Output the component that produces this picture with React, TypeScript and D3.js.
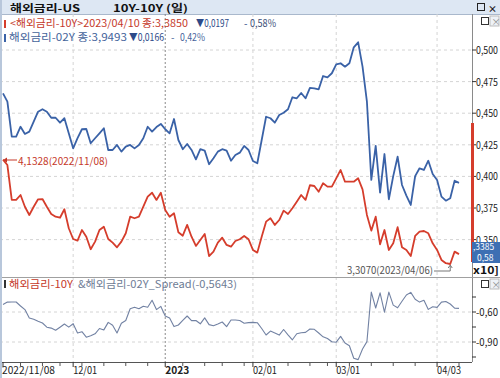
import React from "react";
import * as d3 from "d3";

// 10Y yield (%), 2022/11/08 .. 2023/04/10, trading days
const tenY = [
  4.133, 4.09, 3.814, 3.814, 3.853, 3.76, 3.695, 3.76, 3.819, 3.821,
  3.76, 3.703, 3.681, 3.673, 3.74, 3.59, 3.505, 3.492, 3.576, 3.523,
  3.424, 3.484, 3.576, 3.602, 3.505, 3.476, 3.439, 3.484, 3.55, 3.681,
  3.669, 3.681, 3.76, 3.84, 3.871, 3.814, 3.871, 3.734, 3.681, 3.708,
  3.558, 3.531, 3.616, 3.523, 3.45, 3.497, 3.545, 3.37, 3.405, 3.476,
  3.515, 3.458, 3.444, 3.489, 3.503, 3.529, 3.503, 3.418, 3.397, 3.523,
  3.642, 3.669, 3.616, 3.655, 3.729, 3.703, 3.748, 3.8, 3.853, 3.814,
  3.93, 3.924, 3.879, 3.946, 3.919, 3.919, 3.985, 4.051, 3.958, 3.958,
  3.958, 3.985, 3.898, 3.695, 3.571, 3.681, 3.463, 3.576, 3.418, 3.471,
  3.598, 3.439, 3.418, 3.37, 3.529, 3.563, 3.568, 3.55, 3.471, 3.418,
  3.339, 3.313, 3.307, 3.405, 3.385,
];
// 2Y yield (%)
const twoY = [
  4.657, 4.591, 4.314, 4.314, 4.393, 4.336, 4.354, 4.433, 4.512, 4.531,
  4.512, 4.464, 4.464, 4.425, 4.46, 4.341, 4.222, 4.302, 4.373, 4.375,
  4.262, 4.302, 4.341, 4.381, 4.209, 4.209, 4.249, 4.196, 4.235, 4.249,
  4.222, 4.249, 4.302, 4.393, 4.354, 4.39, 4.415, 4.373, 4.341, 4.454,
  4.288, 4.215, 4.256, 4.209, 4.135, 4.215, 4.204, 4.096, 4.143, 4.196,
  4.215, 4.204, 4.124, 4.169, 4.188, 4.241, 4.209, 4.122, 4.104, 4.288,
  4.472, 4.46, 4.425, 4.486, 4.504, 4.531, 4.626, 4.618, 4.66, 4.618,
  4.7, 4.697, 4.689, 4.794, 4.784, 4.816, 4.887, 4.895, 4.868, 4.895,
  5.021, 5.061, 4.868, 4.591, 3.972, 4.241, 3.871, 4.177, 3.819, 4.002,
  4.156, 3.932, 3.848, 3.774, 4.002, 4.064, 4.051, 4.124, 4.019, 3.972,
  3.84, 3.808, 3.827, 3.966, 3.949,
];

const dateTickIdx = [0, 16, 37, 57, 76, 99];
const dateTickLabels = ["2022/11/08", "12/01", "2023", "02/01", "03/01", "04/03"];
const dateTickBold = [false, false, true, false, false, false];
const weekTickIdx = [4, 9, 13, 18, 23, 28, 33, 41, 46, 50, 55, 60, 65, 70, 74, 79, 84, 89, 94, 104];
const rateTicks = [5.0, 4.75, 4.5, 4.25, 4.0, 3.75, 3.5];
const rateTickLabels = ["0,500", "0,475", "0,450", "0,425", "0,400", "0,375", "0,350"];
const spreadTicks = [-0.45, -0.6, -0.75, -0.9, -1.05];
const spreadTickLabels = ["", "-0,60", "", "-0,90", ""];

const RED = "#d53d2c";
const BLUE = "#3a62a7";
const SPREAD = "#7282a3";
const FONT = "'Noto Sans CJK KR', 'Noto Sans', sans-serif";

export default function App() {
  const W = 500, H = 378;
  const plotR = 472;
  const mainTop = 14, mainBot = 277, lowTop = 277, lowBot = 362;
  const x = d3.scaleLinear().domain([0, tenY.length - 1]).range([3, 459]);
  const y = d3.scaleLinear().domain([3.5, 5.0]).range([239.6, 50]);
  const ys = d3.scaleLinear().domain([-0.9, -0.6]).range([342, 312]);
  const spread = tenY.map((v, i) => v - twoY[i]);
  const mainLine = d3.line<number>().x((_, i) => x(i)).y((d) => y(d));
  const sLine = d3.line<number>().x((_, i) => x(i)).y((d) => ys(d));
  const minIdx = d3.minIndex(tenY);

  return (
    <svg width={W} height={H} style={{ position: "absolute", left: 0, top: 0, background: "#fff" }} fontFamily={FONT}>
      <defs>
        <clipPath id="mainClip"><rect x={0} y={mainTop} width={plotR} height={mainBot - mainTop} /></clipPath>
        <clipPath id="lowClip"><rect x={0} y={lowTop} width={plotR} height={lowBot - lowTop} /></clipPath>
        <clipPath id="boxClip"><rect x={472} y={240} width={28} height={25} /></clipPath>
      </defs>
      <rect x={0} y={0} width={W} height={H} fill="#fff" />
      {/* title bar */}
      <rect x={0} y={0} width={W} height={14} fill="#dde7f3" />
      <line x1={0} x2={W} y1={14.5} y2={14.5} stroke="#a9b8cc" />
      <text x={10} y={11.5} fontSize={10} fontWeight="bold" fill="#111" textLength={70} lengthAdjust="spacingAndGlyphs">해외금리-US</text>
      <text x={113} y={11.5} fontSize={10} fontWeight="bold" fill="#111" textLength={75} lengthAdjust="spacingAndGlyphs">10Y-10Y (일)</text>
      <rect x={477.5} y={3.5} width={7} height={7} fill="none" stroke="#222" />
      <text x={488} y={11.5} fontSize={9} fontWeight="bold" fill="#222">×</text>

      {/* grid main */}
      {rateTicks.map((t, i) => (
        <line key={"gh" + i} x1={0} x2={plotR} y1={y(t)} y2={y(t)} stroke="#d4d4d4" strokeDasharray="3,3" />
      ))}
      {dateTickIdx.slice(1).map((t, i) => (
        <g key={"gv" + i}>
          <line x1={x(t)} x2={x(t)} y1={mainTop} y2={mainBot} stroke={dateTickBold[i + 1] ? "#8a8a8a" : "#d4d4d4"} strokeDasharray={dateTickBold[i + 1] ? "2,2" : "3,3"} />
          <line x1={x(t)} x2={x(t)} y1={lowTop} y2={lowBot} stroke={dateTickBold[i + 1] ? "#8a8a8a" : "#d4d4d4"} strokeDasharray={dateTickBold[i + 1] ? "2,2" : "3,3"} />
        </g>
      ))}
      {spreadTicks.map((t, i) =>
        spreadTickLabels[i] ? (
          <line key={"sg" + i} x1={0} x2={plotR} y1={ys(t)} y2={ys(t)} stroke="#d4d4d4" strokeDasharray="3,3" />
        ) : null
      )}

      {/* series */}
      <g clipPath="url(#mainClip)">
        <path d={mainLine(twoY) || ""} fill="none" stroke={BLUE} strokeWidth={1.8} strokeLinejoin="round" />
        <path d={mainLine(tenY) || ""} fill="none" stroke={RED} strokeWidth={1.8} strokeLinejoin="round" />
      </g>
      <g clipPath="url(#lowClip)">
        <path d={sLine(spread) || ""} fill="none" stroke={SPREAD} strokeWidth={1.1} strokeLinejoin="round" />
      </g>

      {/* legend lines */}
      <rect x={4} y={20} width={2} height={8} fill={RED} />
      <text x={10} y={27} fontSize={10} fill="#c5392a" textLength={178} lengthAdjust="spacingAndGlyphs">&lt;해외금리-10Y&gt;2023/04/10 종:3,3850</text>
      <text x={196} y={27} fontSize={10} fill="#2d4a88" textLength={33} lengthAdjust="spacingAndGlyphs">▼0,0197</text>
      <text x={244} y={27} fontSize={10} fill="#2d4a88">-</text>
      <text x={250} y={27} fontSize={10} fill="#3c4f78" textLength={26} lengthAdjust="spacingAndGlyphs">0,58%</text>

      <rect x={4} y={34} width={2} height={8} fill={BLUE} />
      <text x={9} y={41} fontSize={10} fill="#45649b" textLength={118} lengthAdjust="spacingAndGlyphs">해외금리-02Y 종:3,9493</text>
      <text x={129} y={41} fontSize={10} fill="#2d4a88" textLength={35} lengthAdjust="spacingAndGlyphs">▼0,0166</text>
      <text x={171} y={41} fontSize={10} fill="#45649b">-</text>
      <text x={180} y={41} fontSize={10} fill="#45649b" textLength={25} lengthAdjust="spacingAndGlyphs">0,42%</text>

      {/* main panel buttons */}
      <rect x={481.5} y={17.5} width={7} height={7} fill="none" stroke="#333" />
      <rect x={490} y={16} width={9} height={10} fill="#eef2f7" stroke="#bbb" />
      <text x={491.5} y={24.5} fontSize={9} fill="#888">×</text>

      {/* start annotation */}
      <line x1={5} x2={17} y1={160} y2={160} stroke="#c5392a" />
      <path d="M3,160 L7,157.5 L7,162.5 Z" fill="#c5392a" />
      <text x={18} y={164.5} fontSize={10} fill="#c5392a" textLength={90} lengthAdjust="spacingAndGlyphs">4,1328(2022/11/08)</text>

      {/* min annotation */}
      <text x={347} y={274} fontSize={10} fill="#555" textLength={86} lengthAdjust="spacingAndGlyphs">3,3070(2023/04/06)</text>
      <line x1={434} x2={x(minIdx)} y1={271} y2={271} stroke="#777" />
      <line x1={x(minIdx)} x2={x(minIdx)} y1={266} y2={271} stroke="#777" />
      <path d={`M${x(minIdx) - 2},268 L${x(minIdx)},265 L${x(minIdx) + 2},268`} fill="none" stroke="#777" />

      {/* right axis main */}
      <line x1={plotR + 0.5} x2={plotR + 0.5} y1={mainTop} y2={lowBot} stroke="#8a8a8a" />
      {rateTicks.map((t, i) => (
        <g key={"rt" + i}>
          <line x1={plotR} x2={plotR + 4} y1={y(t)} y2={y(t)} stroke="#333" />
          <text x={476} y={y(t) + 4} fontSize={10} fill="#222" textLength={22} lengthAdjust="spacingAndGlyphs">{rateTickLabels[i]}</text>
        </g>
      ))}
      <line x1={plotR + 0.5} x2={plotR + 0.5} y1={123} y2={262} stroke={RED} strokeWidth={3} />
      <g clipPath="url(#boxClip)">
        <path d="M470,242 L500,242 L500,263 L472,263 L472,255 L468,252.5 L472,250 Z" fill="#3d6fb3" />
        <text x={473} y={250} fontSize={8.5} fill="#fff">,3385</text>
        <text x={477} y={261} fontSize={8.5} fill="#fff">0,58</text>
      </g>
      <text x={473} y={274} fontSize={10} fontWeight="bold" fill="#111" textLength={26} lengthAdjust="spacingAndGlyphs">x10]</text>

      {/* panel separator */}
      <line x1={0} x2={W} y1={lowTop + 0.5} y2={lowTop + 0.5} stroke="#a0a0a0" />

      {/* lower panel legend */}
      <rect x={4} y={280} width={2} height={8} fill="#333" />
      <text x={9} y={288} fontSize={10} fill="#c5392a" textLength={64} lengthAdjust="spacingAndGlyphs">해외금리-10Y</text>
      <text x={78} y={288} fontSize={10} fill="#6e7c95" textLength={159} lengthAdjust="spacingAndGlyphs">&amp;해외금리-02Y_Spread(-0,5643)</text>
      <rect x={481.5} y={280.5} width={7} height={7} fill="none" stroke="#333" />
      <rect x={490} y={279} width={9} height={10} fill="#eef2f7" stroke="#bbb" />
      <text x={491.5} y={287.5} fontSize={9} fill="#888">×</text>

      {/* lower right axis */}
      {spreadTicks.map((t, i) => (
        <g key={"st" + i}>
          <line x1={plotR} x2={plotR + 4} y1={ys(t)} y2={ys(t)} stroke="#333" />
          {spreadTickLabels[i] ? (
            <text x={476} y={ys(t) + 4} fontSize={10} fill="#222" textLength={22} lengthAdjust="spacingAndGlyphs">{spreadTickLabels[i]}</text>
          ) : null}
        </g>
      ))}

      {/* bottom axis */}
      <line x1={0} x2={plotR} y1={lowBot + 0.5} y2={lowBot + 0.5} stroke="#555" />
      {weekTickIdx.map((t, i) => (
        <line key={"wt" + i} x1={x(t)} x2={x(t)} y1={lowBot} y2={lowBot + 4} stroke="#555" />
      ))}
      {dateTickIdx.map((t, i) => (
        <g key={"dt" + i}>
          <line x1={x(t)} x2={x(t)} y1={lowBot} y2={lowBot + 5} stroke="#333" />
          <text x={i === 0 ? 2 : x(t)} y={374} fontSize={10} fontWeight={dateTickBold[i] ? "bold" : "normal"} fill="#222"
            textLength={i === 0 ? 53 : 24} lengthAdjust="spacingAndGlyphs">{dateTickLabels[i]}</text>
        </g>
      ))}

      {/* left border */}
      <rect x={0} y={0} width={2} height={H} fill="#b8c7db" />
    </svg>
  );
}
